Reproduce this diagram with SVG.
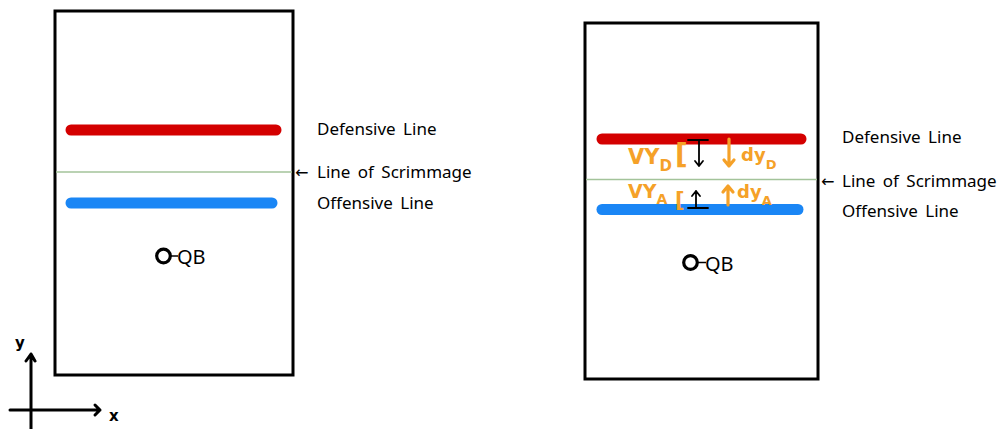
<svg xmlns="http://www.w3.org/2000/svg" width="1005" height="429" viewBox="0 0 1005 429">
<defs>
<style>
.box{fill:#fff;stroke:#000;stroke-width:3}
.def{stroke:#d40000;stroke-width:11;stroke-linecap:round}
.off{stroke:#1a86f5;stroke-width:11;stroke-linecap:round}
.los{stroke:#a3c39a;stroke-width:1.5}
.lbl{font-family:"Noto Sans","Liberation Sans",sans-serif;font-size:17px;fill:#000;word-spacing:3px}
.arr{font-family:"DejaVu Sans",sans-serif;font-size:16px;fill:#000}
.qb{font-family:"Noto Sans","Liberation Sans",sans-serif;font-size:20px;fill:#000}
.ring{fill:none;stroke:#000;stroke-width:3.2}
.ax{fill:none;stroke:#000;stroke-width:3;stroke-linecap:round;stroke-linejoin:round}
.axl{font-family:"DejaVu Sans",sans-serif;font-weight:bold;font-size:15px;fill:#000}
.or{fill:none;stroke:#f5a128;stroke-width:3.2;stroke-linecap:round;stroke-linejoin:round}
.ort{font-family:"DejaVu Sans",sans-serif;font-weight:bold;fill:#f5a128}
.bk{fill:none;stroke:#000;stroke-width:1.8;stroke-linecap:round;stroke-linejoin:round}
</style>
</defs>
<rect width="1005" height="429" fill="#fff"/>

<g id="field-left">
<rect class="box" x="55" y="11" width="238" height="364"/>
<line class="los" x1="56" y1="172" x2="292" y2="172"/>
<line class="def" x1="71" y1="130" x2="276" y2="130"/>
<line class="off" x1="71" y1="203" x2="272" y2="203"/>
</g>
<g id="labels-left">
<text class="lbl" x="317" y="135">Defensive Line</text>
<text class="arr" x="295" y="177.5">←</text>
<text class="lbl" x="317" y="178">Line of Scrimmage</text>
<text class="lbl" x="317" y="209">Offensive Line</text>
</g>
<g id="qb-left">
<circle class="ring" cx="163.5" cy="256" r="6.8"/>
<line x1="171" y1="256" x2="178" y2="256" stroke="#000" stroke-width="1.5"/>
<text class="qb" x="177" y="263.5">QB</text>
</g>
<g id="axes">
<path class="ax" d="M31,429 V354 M26,361 L31,354 L35,361"/>
<path class="ax" d="M10,410 H100 M95,405 L100,410 L95,415"/>
<text class="axl" x="15" y="348">y</text>
<text class="axl" x="109" y="421">x</text>
</g>

<g id="field-right">
<rect class="box" x="585" y="23" width="233" height="356"/>
<line class="los" x1="586" y1="179.5" x2="817" y2="179.5"/>
<line class="def" x1="602" y1="139" x2="801" y2="139"/>
<line class="off" x1="602" y1="209.5" x2="798" y2="209.5"/>
</g>
<g id="labels-right">
<text class="lbl" x="842" y="143">Defensive Line</text>
<text class="arr" x="821" y="186.5">←</text>
<text class="lbl" x="842" y="187">Line of Scrimmage</text>
<text class="lbl" x="842" y="217">Offensive Line</text>
</g>
<g id="qb-right">
<circle class="ring" cx="690.5" cy="262.5" r="6.8"/>
<line x1="698" y1="262.5" x2="706" y2="262.5" stroke="#000" stroke-width="1.5"/>
<text class="qb" x="705" y="270.5">QB</text>
</g>

<g id="annotations">
<text class="ort" x="628" y="164" font-size="21">VY<tspan font-size="15" dy="7">D</tspan></text>
<text class="ort" x="675" y="164" font-size="28" font-weight="normal">[</text>
<text class="ort" x="628" y="198" font-size="19">VY<tspan font-size="14" dy="6">A</tspan></text>
<text class="ort" x="675" y="207" font-size="21" font-weight="normal">[</text>
<path class="bk" d="M688,140 H708 M699,140 V166 M695,161 L699,166 L703,161"/>
<path class="bk" d="M688,208 H708 M696,208 V191 M692,196 L696,191 L700,196"/>
<path class="or" d="M729,139 V166 M724,160 L729,166 L734,160"/>
<path class="or" d="M728,205 V186 M723,192 L728,186 L733,192"/>
<text class="ort" x="741" y="161" font-size="18">dy<tspan font-size="13" dy="8">D</tspan></text>
<text class="ort" x="737" y="198" font-size="18">dy<tspan font-size="13" dy="7">A</tspan></text>
</g>
</svg>
